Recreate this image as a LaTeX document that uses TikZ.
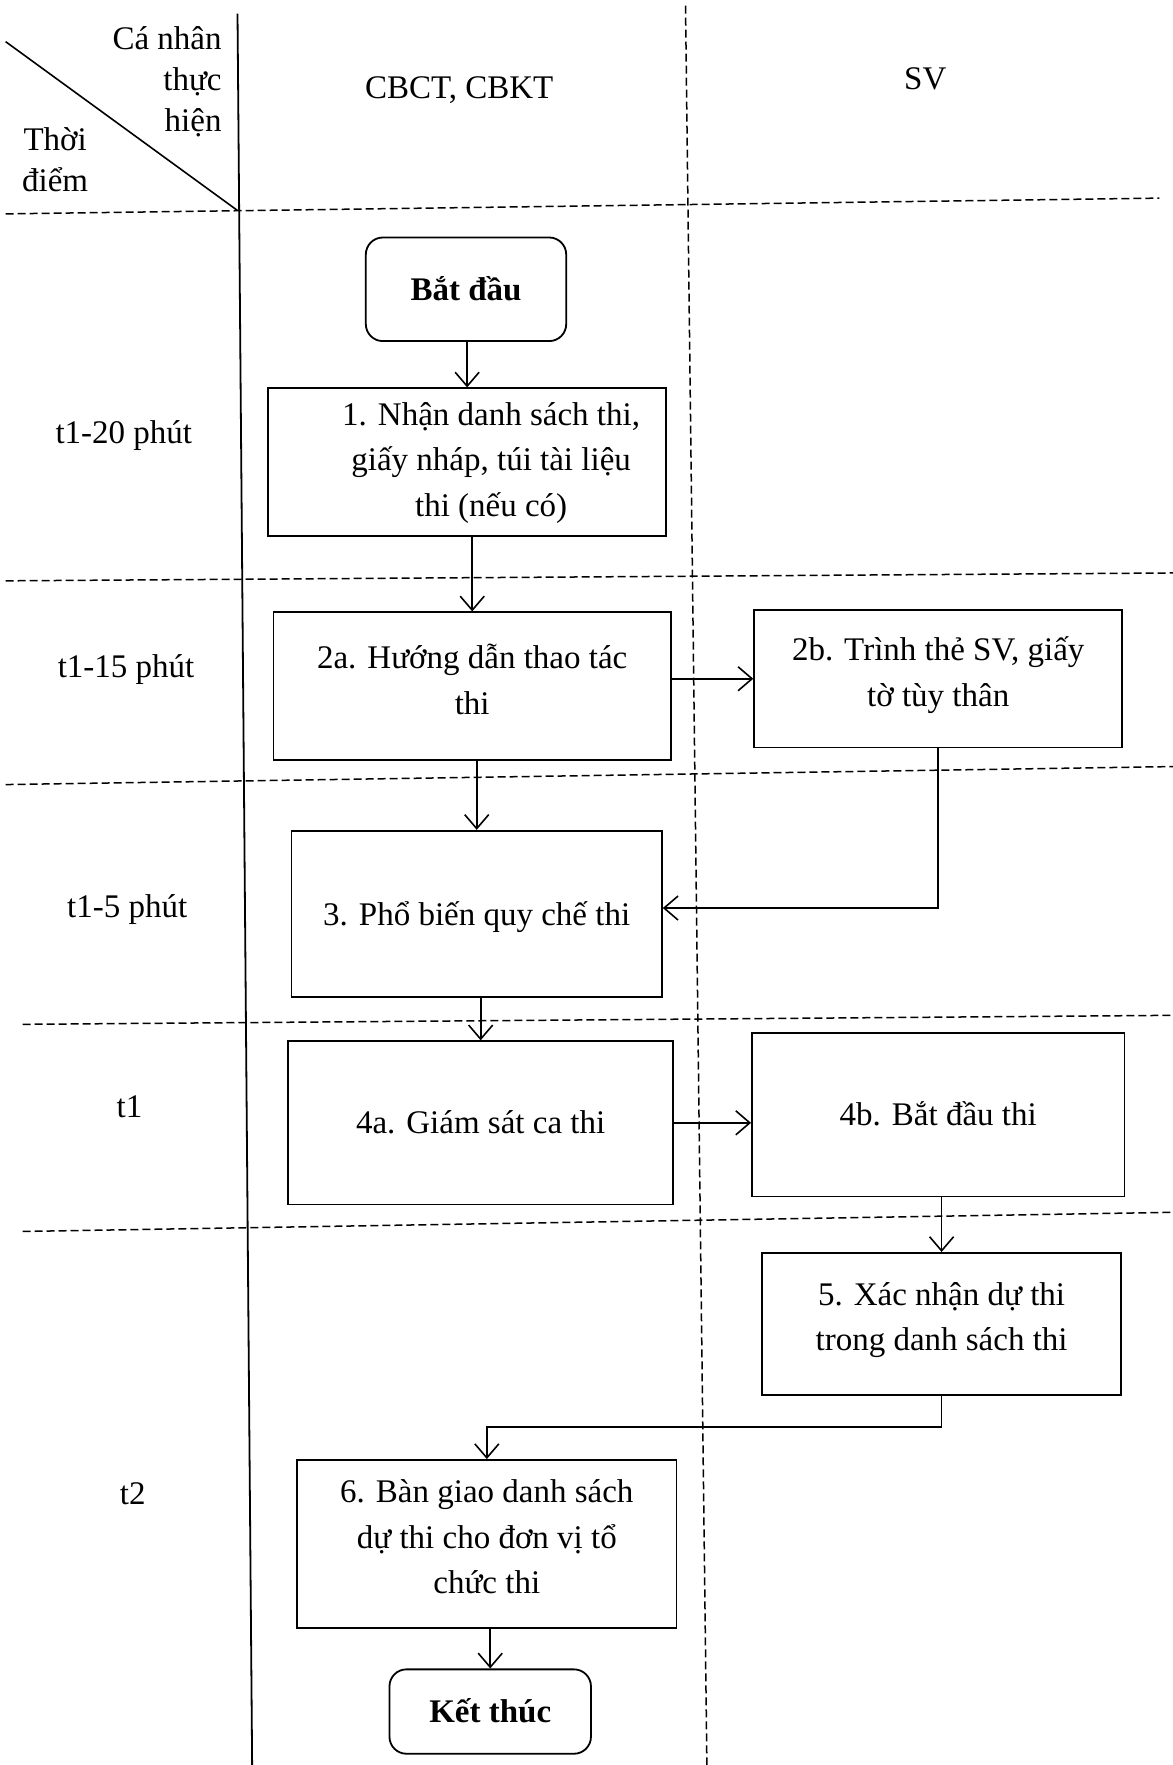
\documentclass[tikz,border=0pt]{standalone}
\usepackage{fontspec}
\setmainfont{Liberation Serif}
\usetikzlibrary{arrows.meta}
\begin{document}
\begin{tikzpicture}[x=1.1257pt,y=-1.1257pt,
  txt/.style={align=center, inner sep=0pt, font=\fontsize{33}{45.5}\selectfont,
    execute at begin node={\rule{0pt}{36pt}},
    execute at end node={\rule[-14pt]{0pt}{14pt}}},
  txtm/.style={txt,
    execute at begin node={\rule{0pt}{44pt}},
    execute at end node={\rule[-10pt]{0pt}{10pt}}},
  box/.style={txt, draw, line width=1.8pt},
  boxm/.style={txtm, draw, line width=1.8pt},
  term/.style={box, rounded corners=17pt, font=\fontsize{33}{45}\selectfont\bfseries},
  lbl/.style={font=\fontsize{33}{45}\selectfont, align=center, inner sep=0pt},
  hdr/.style={font=\fontsize{33}{41}\selectfont, inner sep=0pt},
  sep/.style={line width=1.5pt, dash pattern=on 8pt off 4pt},
  arr/.style={line width=1.7pt, -{Straight Barb[length=14pt,width=24pt,line width=1.6pt]}},
]
\useasboundingbox (0,0) rectangle (1042,1568);

% grid lines
\draw[line width=1.8pt] (211,12) -- (224,1568);
\draw[sep] (609,5) -- (628,1568);
\draw[line width=1.6pt] (5,37) -- (211,187);
\draw[sep] (5,190) -- (1030,176);
\draw[sep] (5,516) -- (1042,509);
\draw[sep] (5,697) -- (1042,681);
\draw[sep] (20,910) -- (1042,902);
\draw[sep] (20,1094) -- (1042,1077);

% header
\node[hdr, align=right, anchor=east] (hcn) at (197,73) {Cá nhân\\thực\\hiện};
\node[hdr, align=center] (htd) at (49,142) {Thời\\điểm};
\node[lbl] (hc1) at (408,80) {CBCT, CBKT};
\node[lbl] (hc2) at (822,70) {SV};

% row labels
\node[lbl] (r1) at (110,387) {t1-20 phút};
\node[lbl] (r2) at (112,595) {t1-15 phút};
\node[lbl] (r3) at (113,808) {t1-5 phút};
\node[lbl] (r4) at (115,983) {t1};
\node[lbl] (r5) at (118,1327) {t2};

% boxes
\node[term, minimum width=200.4pt, minimum height=103.6pt] (start) at (414,257) {Bắt đầu};
\node[box, minimum width=398.5pt, minimum height=147.5pt,
      label={[txtm, xshift=24pt, yshift=-4pt]center:1. Nhận danh sách thi,\\giấy nháp, túi tài liệu\\thi (nếu có)}] (b1) at (415,410.5) {};
\node[boxm, minimum width=397.4pt, minimum height=147.5pt] (b2a) at (419.5,609.5) {2a. Hướng dẫn thao tác\\thi};
\node[boxm, minimum width=368.1pt, minimum height=137.3pt] (b2b) at (833.5,603) {2b. Trình thẻ SV, giấy\\tờ tùy thân};
\node[box, minimum width=370.4pt, minimum height=166.6pt] (b3) at (423.5,812) {3. Phổ biến quy chế thi};
\node[box, minimum width=385pt, minimum height=163.2pt] (b4a) at (427,997.5) {4a. Giám sát ca thi};
\node[box, minimum width=372.6pt, minimum height=163.2pt] (b4b) at (833.5,990.5) {4b. Bắt đầu thi};
\node[boxm, minimum width=359.1pt, minimum height=141.8pt] (b5) at (836.5,1176) {5. Xác nhận dự thi\\trong danh sách thi};
\node[boxm, minimum width=379.4pt, minimum height=167.7pt] (b6) at (432.5,1371.5) {6. Bàn giao danh sách\\dự thi cho đơn vị tổ\\chức thi};
\node[term, minimum width=201.5pt, minimum height=84.4pt] (end) at (435.5,1520.5) {Kết thúc};

% connectors
\draw[arr] (b1.north |- start.south) -- (b1.north);
\draw[arr] (b2a.north |- b1.south) -- (b2a.north);
\draw[arr] (b2a.east |- b2b.west) -- (b2b.west);
\draw[arr] (b3.north |- b2a.south) -- (b3.north);
\draw[arr] (b2b.south) |- ([yshift=6pt]b3.east);
\draw[arr] (b4a.north |- b3.south) -- (b4a.north);
\draw[arr] (b4a.east) -- (b4a.east -| b4b.west);
\draw[arr] (b5.north |- b4b.south) -- (b5.north);
\draw[arr] (b5.south) -- ++(0,28) -| (b6.north);
\draw[arr] (end.north |- b6.south) -- (end.north);
\end{tikzpicture}
\end{document}
